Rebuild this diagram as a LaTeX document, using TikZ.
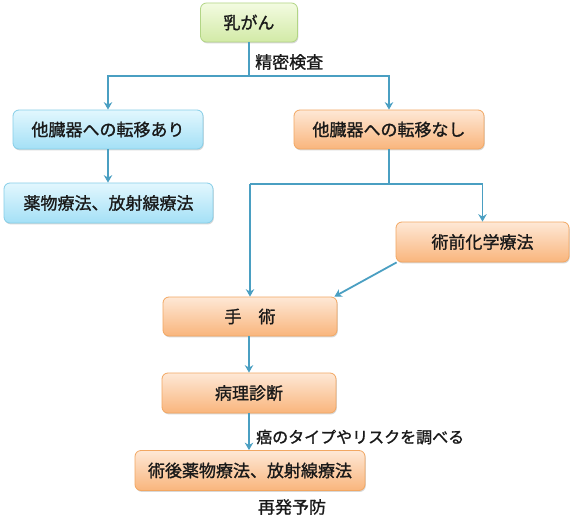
\documentclass[tikz,border=0pt]{standalone}
\usepackage{fontspec}
\setmainfont{Noto Sans CJK JP}[FakeBold=1.2]
\usetikzlibrary{arrows.meta,shadows}
\definecolor{conncol}{HTML}{4A9FC2}
\definecolor{bluetop}{HTML}{E2F7FE}
\definecolor{bluebot}{HTML}{A4E0F6}
\definecolor{blueedge}{HTML}{86CEE8}
\definecolor{orgtop}{HTML}{FEE8D6}
\definecolor{orgbot}{HTML}{F9B57C}
\definecolor{orgedge}{HTML}{F2A762}
\definecolor{grntop}{HTML}{F3FBE1}
\definecolor{grnbot}{HTML}{D2EAA6}
\definecolor{grnedge}{HTML}{B2D585}
\tikzset{
  boxbase/.style={rounded corners=6pt, line width=0.8pt, inner sep=0pt, align=center,
    font=\fontsize{17}{20}\selectfont, text=black!90,
    drop shadow={shadow xshift=0.8pt, shadow yshift=-1.4pt, opacity=0.25, fill=black!60}},
  bluebox/.style={boxbase, draw=blueedge, top color=bluetop, bottom color=bluebot},
  orgbox/.style={boxbase, draw=orgedge, top color=orgtop, bottom color=orgbot},
  grnbox/.style={boxbase, draw=grnedge, top color=grntop, bottom color=grnbot},
  conn/.style={draw=conncol, line width=1.8pt},
  arr/.style={conn, -{Stealth[length=7.5pt,width=8.5pt,inset=2.5pt]}},
  lbl/.style={inner sep=0pt, font=\fontsize{17}{20}\selectfont, text=black!90},
}
\begin{document}
\begin{tikzpicture}[x=1pt,y=-1pt]
\useasboundingbox (0,0) rectangle (573,527);
\fill[white] (0,0) rectangle (573,527);

\node[grnbox, minimum width=97pt, minimum height=39pt] (ru) at (249,22.5) {乳がん};
\node[bluebox, minimum width=190pt, minimum height=39pt] (ari) at (108,129.5) {他臓器への転移あり};
\node[orgbox, minimum width=190pt, minimum height=39pt] (nashi) at (389,129.5) {他臓器への転移なし};
\node[bluebox, minimum width=209pt, minimum height=40pt] (yaku) at (108.5,203) {薬物療法、放射線療法};
\node[orgbox, minimum width=173pt, minimum height=40pt] (jutsuzen) at (482.5,242) {術前化学療法};
\node[orgbox, minimum width=174pt, minimum height=39pt] (shujutsu) at (250,316.5) {手　術};
\node[orgbox, minimum width=174pt, minimum height=40pt] (byouri) at (249,393) {病理診断};
\node[orgbox, minimum width=230pt, minimum height=40pt] (jutsugo) at (250,470.5) {術後薬物療法、放射線療法};

\coordinate (s1) at (249,76);
\coordinate (s2) at (389,184);
\coordinate (s2l) at (250,184);

% top split
\draw[conn] (ru.south) -- (s1);
\draw[arr] (s1) -| (ari.north);
\draw[arr] (s1) -| (nashi.north);
\node[lbl, anchor=west] (seimitsu) at (255,62) {精密検査};

% left branch
\draw[arr] (ari.south) -- (yaku.north -| ari.south);

% right branch
\draw[conn] (nashi.south) -- (s2);
\draw[arr] (s2) -| (jutsuzen.north);
\draw[conn] (s2) -- (s2l);
\draw[arr] (s2l) -- (shujutsu.north);
\draw[arr] ([xshift=1pt]jutsuzen.south west) -- ([xshift=-3pt]shujutsu.north east);

% lower chain
\draw[arr] ([xshift=-1pt]shujutsu.south) -- (byouri.north);
\draw[arr] (byouri.south) -- (jutsugo.north -| byouri.south);
\node[lbl, anchor=west, font=\fontsize{16}{20}\selectfont] (gan) at (256,437) {癌のタイプやリスクを調べる};
\node[lbl] (saihatsu) at (292,507) {再発予防};
\end{tikzpicture}
\end{document}
